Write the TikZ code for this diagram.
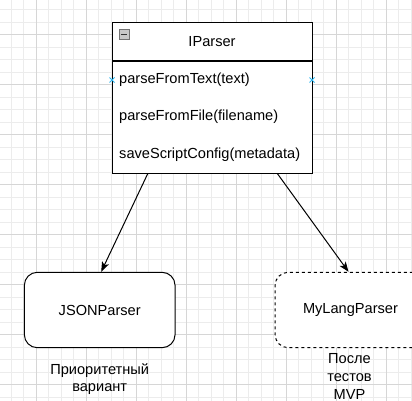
\documentclass[tikz,border=0pt]{standalone}
\usepackage{fontspec}
\setmainfont{Liberation Sans}
\usetikzlibrary{arrows.meta, positioning, calc}
\definecolor{gridminor}{RGB}{236,236,236}
\definecolor{gridmajor}{RGB}{214,214,214}
\definecolor{pointblue}{RGB}{41,182,242}
\definecolor{icongray}{RGB}{200,200,200}

\begin{document}
\begin{tikzpicture}[
  x=1pt, y=-1pt,
  every node/.style={font=\fontsize{14.6}{17.8}\selectfont, text=black},
  hdrbox/.style={draw, line width=1pt, fill=white, minimum width=200pt,
                 minimum height=38pt, inner sep=0pt},
  bodybox/.style={draw, line width=1pt, fill=white, minimum width=200pt,
                  minimum height=111.6pt, inner sep=0pt},
  method/.style={anchor=west, inner sep=7pt},
  implbox/.style={draw, line width=1pt, fill=white, rounded corners=13pt,
                  minimum width=150.7pt, minimum height=75.4pt},
  note/.style={align=center, inner sep=0pt},
  arr/.style={-{Stealth[length=10pt,width=7.5pt,inset=2.5pt]}, line width=1pt}
]
\useasboundingbox (0,0) rectangle (412,401);
\clip (0,0) rectangle (412,401);
\fill[white] (0,0) rectangle (412,401);
\foreach \gx in {-1.5,11,...,412} \draw[gridminor, line width=0.8pt] (\gx,0) -- (\gx,401);
\foreach \gy in {-3,9.5,...,401} \draw[gridminor, line width=0.8pt] (0,\gy) -- (412,\gy);
\foreach \gx in {36,86,...,412} \draw[gridmajor, line width=0.8pt] (\gx,0) -- (\gx,401);
\foreach \gy in {34.5,84.5,...,401} \draw[gridmajor, line width=0.8pt] (0,\gy) -- (412,\gy);

\node[hdrbox] (hdr) at (212,41.7) {IParser};
\node[bodybox, anchor=north] (body) at (hdr.south) {};
\node[draw=black!55, fill=icongray, minimum size=10pt, inner sep=0pt] (collapse) at (124,34.2) {};
\draw[line width=1.2pt, black!80] ([xshift=2pt]collapse.west) -- ([xshift=-2pt]collapse.east);
\node[method] (m1) at (112,79.5) {parseFromText(text)};
\node[method] (m2) at (112,117) {parseFromFile(filename)};
\node[method] (m3) at (112,154.5) {saveScriptConfig(metadata)};
\foreach \mx in {112,312}
  \draw[pointblue, line width=1pt] (\mx-2.5,77.5) -- (\mx+2.5,82.5) (\mx-2.5,82.5) -- (\mx+2.5,77.5);

\node[implbox] (json) at (99.7,310) {JSONParser};
\node[implbox, dashed, dash pattern=on 3pt off 3pt] (mylang) at (350.5,310) {MyLangParser};
\node[note] (jsonnote) at (99.7,379) {Приоритетный\\вариант};
\node[note] (mylangnote) at (349.5,376.5) {После\\тестов\\MVP};

\draw[arr] ($(body.south west)!0.18!(body.south east)$) -- ([xshift=1.5pt]json.north);
\draw[arr] ($(body.south west)!0.826!(body.south east)$) -- ([xshift=-2pt]mylang.north);
\end{tikzpicture}
\end{document}
